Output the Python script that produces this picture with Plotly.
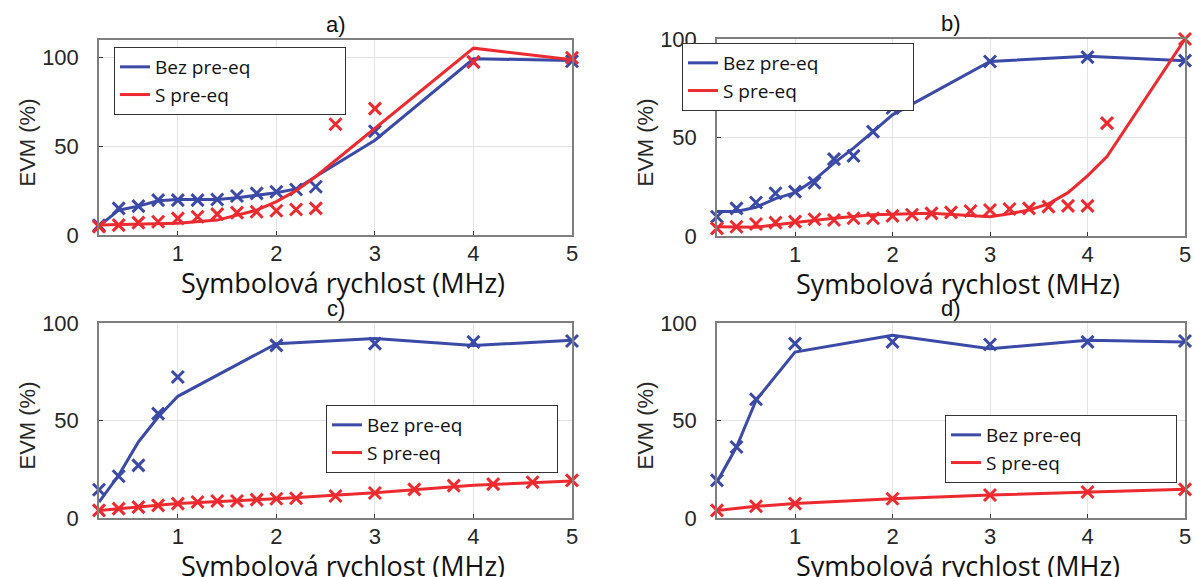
import plotly.graph_objects as go

BLUE = "#3a4aa6"
RED = "#ec2a2f"

panel_titles = ["a)", "b)", "c)", "d)"]
x_title = "Symbolová rychlost (MHz)"
y_title = "EVM (%)"
legend_names = ["Bez pre-eq", "S pre-eq"]
x_ticks = [1, 2, 3, 4, 5]
y_ticks = [0, 50, 100]

# ---- panel a ----
a_blue_mx = [0.2, 0.4, 0.6, 0.8, 1.0, 1.2, 1.4, 1.6, 1.8, 2.0, 2.2, 2.4, 3, 4, 5]
a_blue_my = [5.5, 15, 16.3, 19.7, 19.7, 19.7, 20, 22, 23.5, 24.4, 25.7, 27.2, 58.5, 97.6, 98]
a_blue_lx = [0.2, 0.4, 0.6, 0.8, 1.0, 1.4, 1.6, 2.0, 2.2, 2.4, 3, 4, 5]
a_blue_ly = [5, 14, 16.3, 19.3, 20, 20, 21, 23.8, 26, 33, 53.5, 99.4, 98.5]
a_red_mx = [0.2, 0.4, 0.6, 0.8, 1.0, 1.2, 1.4, 1.6, 1.8, 2.0, 2.2, 2.4, 2.6, 3, 4, 5]
a_red_my = [4.7, 5.6, 7, 7.5, 9.4, 10.3, 11.8, 12.6, 13.1, 13.7, 14.4, 15, 62.5, 71.3, 97.6, 100]
a_red_lx = [0.2, 0.6, 1.0, 1.4, 1.8, 2.0, 2.2, 2.4, 3, 4, 5]
a_red_ly = [5.6, 6, 6.6, 8.4, 14, 18.8, 25, 33, 60, 105.4, 98.9]

# ---- panel b ----
b_blue_mx = [0.2, 0.4, 0.6, 0.8, 1, 1.2, 1.4, 1.6, 1.8, 2, 3, 4, 5]
b_blue_my = [9.8, 14, 17, 21.7, 22.5, 27, 39, 40.7, 53, 65, 88.6, 90.8, 89]
b_blue_lx = [0.2, 0.4, 0.6, 0.8, 1, 1.2, 1.4, 1.6, 1.8, 2, 3, 4, 5]
b_blue_ly = [12.4, 12.4, 14.6, 19, 22, 28.5, 37, 44.6, 53, 61.5, 88.6, 91.2, 89]
b_red_mx = [0.2, 0.4, 0.6, 0.8, 1.0, 1.2, 1.4, 1.6, 1.8, 2.0, 2.2, 2.4, 2.6, 2.8, 3.0,
            3.2, 3.4, 3.6, 3.8, 4.0, 4.2, 5]
b_red_my = [3.9, 4.7, 6.1, 6.8, 7.3, 8.5, 8.1, 9, 9, 10.2, 10.8, 11.5, 12, 12.7, 13.2,
            13.7, 14, 14.9, 15.3, 15.3, 57.3, 100]
b_red_lx = [0.2, 0.6, 1, 1.4, 1.8, 2.0, 2.4, 3, 3.2, 3.4, 3.6, 3.8, 4, 4.2, 5]
b_red_ly = [4.7, 4.4, 6.8, 9, 10.8, 11, 11.5, 9.8, 11.3, 13.2, 16.3, 22, 30.5, 40.3, 100]

# ---- panel c ----
c_blue_mx = [0.2, 0.4, 0.6, 0.8, 1, 2, 3, 4, 5]
c_blue_my = [14.5, 21.4, 27, 53.5, 72.3, 88.5, 89.4, 90.3, 90.8]
c_blue_lx = [0.2, 0.4, 0.6, 0.8, 1, 2, 3, 4, 5]
c_blue_ly = [8.2, 21.9, 39, 51.8, 62.4, 89.4, 92, 88.5, 91.1]
c_red_mx = [0.2, 0.4, 0.6, 0.8, 1, 1.2, 1.4, 1.6, 1.8, 2, 2.2, 2.6, 3, 3.4, 3.8, 4.2, 4.6, 5]
c_red_my = [3.9, 4.8, 5.6, 6.5, 7.4, 8.2, 8.7, 8.7, 9.4, 9.9, 10.1, 11.3, 12.8, 14.7, 16.6,
            17.4, 18.3, 19.3]
c_red_lx = [0.2, 1, 2, 3, 4, 5]
c_red_ly = [3.9, 7.4, 9.9, 13, 16.8, 19]

# ---- panel d ----
d_blue_mx = [0.2, 0.4, 0.6, 1, 2, 3, 4, 5]
d_blue_my = [19.3, 36.4, 60.9, 89.4, 90.3, 89, 90.3, 90.8]
d_blue_lx = [0.2, 0.4, 0.6, 1, 2, 3, 4, 5]
d_blue_ly = [18.5, 36.4, 60.3, 85.1, 93.7, 86.8, 91.1, 90.3]
d_red_mx = [0.2, 0.6, 1, 2, 3, 4, 5]
d_red_my = [3.9, 6, 7.4, 9.9, 11.8, 13.3, 14.7]
d_red_lx = [0.2, 0.6, 1, 2, 3, 4, 5]
d_red_ly = [3.9, 6, 7.4, 9.9, 11.8, 13.3, 14.7]

W, H = 1195, 577

def px_x(p):
    return p / W

def px_y(p):
    return 1 - p / H

panels = [
    dict(blue_m=(a_blue_mx, a_blue_my), blue_l=(a_blue_lx, a_blue_ly),
         red_m=(a_red_mx, a_red_my), red_l=(a_red_lx, a_red_ly),
         xd=(99, 572), yd=(40, 235), ymax=110, leg=(114, 47)),
    dict(blue_m=(b_blue_mx, b_blue_my), blue_l=(b_blue_lx, b_blue_ly),
         red_m=(b_red_mx, b_red_my), red_l=(b_red_lx, b_red_ly),
         xd=(717, 1185), yd=(39, 236), ymax=100, leg=(682, 43)),
    dict(blue_m=(c_blue_mx, c_blue_my), blue_l=(c_blue_lx, c_blue_ly),
         red_m=(c_red_mx, c_red_my), red_l=(c_red_lx, c_red_ly),
         xd=(99, 572), yd=(323, 518), ymax=100, leg=(326, 405)),
    dict(blue_m=(d_blue_mx, d_blue_my), blue_l=(d_blue_lx, d_blue_ly),
         red_m=(d_red_mx, d_red_my), red_l=(d_red_lx, d_red_ly),
         xd=(717, 1185), yd=(323, 518), ymax=100, leg=(945, 415)),
]

PAD = "\u00a0" * 18

fig = go.Figure()
annotations = []
layout = {}
TICKFONT = dict(family="Liberation Sans, Arial, sans-serif", size=22, color="#262626")
TEXTFONT = dict(family="Open Sans, Noto Sans, sans-serif", size=27, color="#111111")

for i, p in enumerate(panels):
    n = "" if i == 0 else str(i + 1)
    xa, ya = "x" + n, "y" + n
    leg = "legend" + n
    for (mx, my), (lx, ly), col, name in [
        (p["blue_m"], p["blue_l"], BLUE, legend_names[0]),
        (p["red_m"], p["red_l"], RED, legend_names[1]),
    ]:
        fig.add_trace(go.Scatter(x=lx, y=ly, mode="lines", name=name + PAD,
                                 line=dict(color=col, width=3), xaxis=xa, yaxis=ya,
                                 legend=leg, showlegend=True))
        fig.add_trace(go.Scatter(x=mx, y=my, mode="markers", name=name,
                                 marker=dict(symbol="x-thin", size=12, color=col,
                                             line=dict(color=col, width=3)),
                                 xaxis=xa, yaxis=ya, showlegend=False, cliponaxis=False))
    x0, x1 = p["xd"]
    y0, y1 = p["yd"]
    axcommon = dict(showline=True, linecolor="#7f7f7f", linewidth=1.5, mirror=True,
                    showgrid=True, gridcolor="#e3e3e3", gridwidth=1, zeroline=False,
                    ticks="inside", ticklen=4, tickcolor="#333333",
                    tickfont=TICKFONT, automargin=False)
    layout["xaxis" + n] = dict(domain=[px_x(x0), px_x(x1)], range=[0.2, 5],
                               tickvals=x_ticks, anchor=ya, ticklabelstandoff=-2,
                               **axcommon)
    layout["yaxis" + n] = dict(domain=[px_y(y1), px_y(y0)], range=[0, p["ymax"]],
                               tickvals=y_ticks, anchor=xa, ticklabelstandoff=14,
                               **axcommon)
    lx0, ly0 = p["leg"]
    layout[leg] = dict(x=px_x(lx0), y=px_y(ly0), xanchor="left", yanchor="top",
                       xref="paper", yref="paper",
                       bgcolor="white", bordercolor="#333333", borderwidth=1,
                       font=dict(family="Open Sans, Noto Sans, sans-serif", size=19,
                                 color="#111111"),
                       tracegroupgap=0)
    cx = (x0 + x1) / 2
    annotations.append(dict(text=panel_titles[i], x=px_x(cx), y=px_y(y0 - 15),
                            xref="paper", yref="paper", showarrow=False,
                            xanchor="center", yanchor="middle",
                            font=dict(family="Liberation Sans, Arial, sans-serif",
                                      size=22, color="#111111")))
    annotations.append(dict(text=x_title, x=px_x(cx + 7), y=px_y(y1 + 47),
                            xref="paper", yref="paper", showarrow=False,
                            xanchor="center", yanchor="middle", font=TEXTFONT))
    annotations.append(dict(text=y_title, x=px_x(x0 - 72), y=px_y((y0 + y1) / 2 + 5),
                            xref="paper", yref="paper", showarrow=False, textangle=-90,
                            xanchor="center", yanchor="middle",
                            font=dict(family="Liberation Sans, Arial, sans-serif",
                                      size=22, color="#262626")))

fig.update_layout(width=W, height=H,
                  margin=dict(l=0, r=0, t=0, b=0, pad=0, autoexpand=False),
                  paper_bgcolor="white", plot_bgcolor="white",
                  annotations=annotations, **layout)

fig.write_html("out.html", config={"displayModeBar": False},
               post_script="document.body.style.margin='0';document.body.style.padding='0';")
